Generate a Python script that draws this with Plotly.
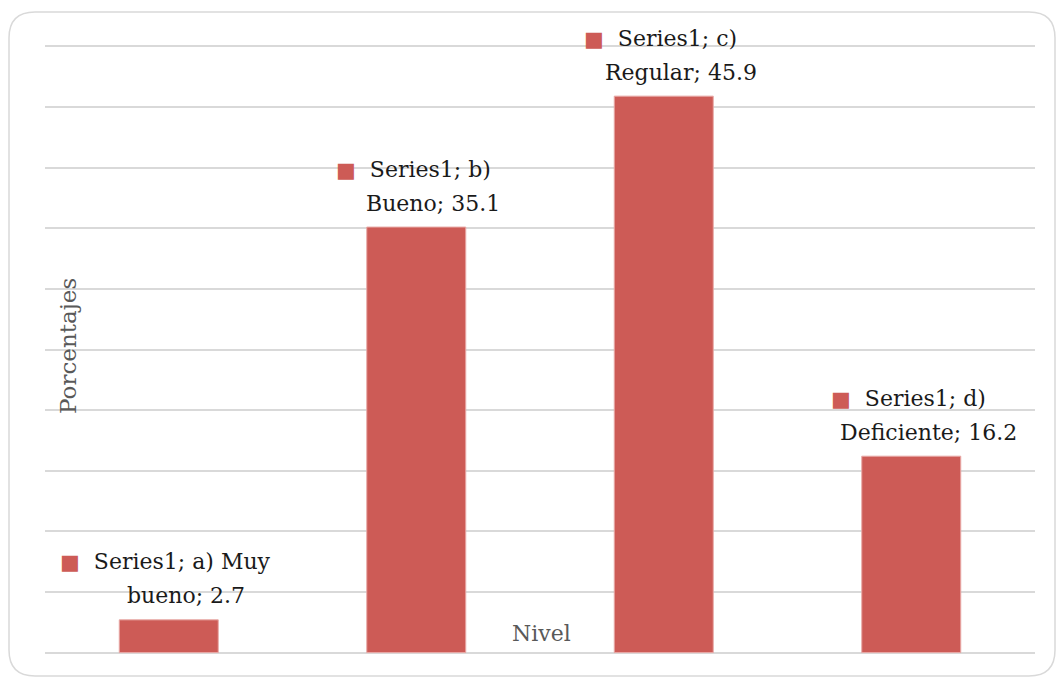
import textwrap
import plotly.graph_objects as go

categories = ["a) Muy bueno", "b) Bueno", "c) Regular", "d) Deficiente"]
values = [2.7, 35.1, 45.9, 16.2]
series_name = "Series1"
x_title = "Nivel"
y_title = "Porcentajes"

BAR_COLOR = "#CD5B56"
W, H = 1059, 677
PAD = 0.2  # y-range padding so the 0 and 50 gridlines are drawn
L, R, T, B = 45, 24, 44, 22
FONT = "DejaVu Serif"
FS = 22

fig = go.Figure()
fig.add_trace(go.Bar(x=categories, y=values,
                     marker=dict(color=BAR_COLOR, line=dict(color="#E8A9A6", width=1)),
                     width=0.4, hoverinfo="x+y"))

for c, v in zip(categories, values):
    lines = textwrap.wrap(f"{series_name}; {c}; {v}", width=16)
    first = f"<span style='color:{BAR_COLOR};font-size:21px'>■</span>  " + lines[0]
    fig.add_annotation(x=c, y=v, xref="x", yref="y", text=first, showarrow=False,
                       yanchor="middle", yshift=58, xshift=-3,
                       font=dict(family=FONT, size=FS, color="#1a1a1a"))
    fig.add_annotation(x=c, y=v, xref="x", yref="y", text=" ".join(lines[1:]), showarrow=False,
                       yanchor="middle", yshift=24, xshift=17,
                       font=dict(family=FONT, size=FS, color="#1a1a1a"))

pw, ph = W - L - R, H - T - B
def px(x):
    return (x - L) / pw
def py(y):
    return (H - B - y) / ph

x0, x1, y0, y1, r = 9, 1055, 12, 676, 26
path = (f"M {px(x0+r)},{py(y0)} L {px(x1-r)},{py(y0)} Q {px(x1)},{py(y0)} {px(x1)},{py(y0+r)} "
        f"L {px(x1)},{py(y1-r)} Q {px(x1)},{py(y1)} {px(x1-r)},{py(y1)} "
        f"L {px(x0+r)},{py(y1)} Q {px(x0)},{py(y1)} {px(x0)},{py(y1-r)} "
        f"L {px(x0)},{py(y0+r)} Q {px(x0)},{py(y0)} {px(x0+r)},{py(y0)} Z")
fig.add_shape(type="path", xref="paper", yref="paper", path=path,
              line=dict(color="#D9D9D9", width=1.5), fillcolor="rgba(0,0,0,0)", layer="below")

fig.add_annotation(x=px(541), y=py(633), xref="paper", yref="paper", text=x_title, showarrow=False,
                   xanchor="center", yanchor="middle", font=dict(family=FONT, size=FS, color="#595959"))
fig.add_annotation(x=px(68), y=py(346), xref="paper", yref="paper", text=y_title, showarrow=False,
                   textangle=-90, xanchor="center", yanchor="middle",
                   font=dict(family=FONT, size=23, color="#595959"))

fig.update_layout(
    width=W, height=H, margin=dict(l=L, r=R, t=T, b=B),
    paper_bgcolor="white", plot_bgcolor="white", showlegend=False, bargap=0.6,
    xaxis=dict(showticklabels=False, ticks="", showgrid=False, zeroline=False, showline=False),
    yaxis=dict(range=[-PAD, 50 + PAD], dtick=5, showticklabels=False, ticks="", showgrid=True,
               gridcolor="#D9D9D9", gridwidth=2, zeroline=False, showline=False),
)
fig.write_html("out.html", config={"displayModeBar": False},
               post_script="document.body.style.margin='0';document.body.style.overflow='hidden';")
